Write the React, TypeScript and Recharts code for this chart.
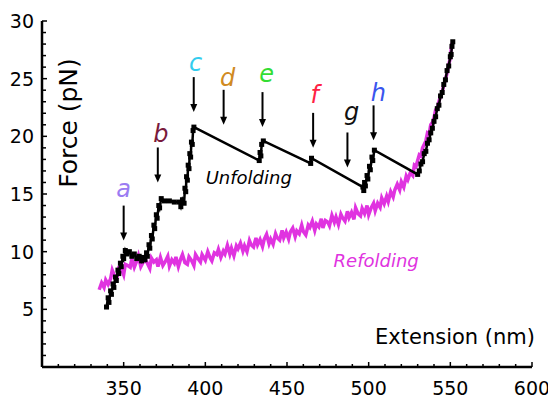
import { ComposedChart, Line, Scatter, XAxis, YAxis } from "recharts";

// force–extension traces, [extension nm, force pN]
const unfoldingTrace: [number, number][] = [
  [339.5, 5.2], [340.5, 6.0], [341, 5.6], [342, 6.6], [342.5, 6.3], [343.5, 7.2], [344, 6.9], [345, 7.8],
  [345.5, 7.5], [346.5, 8.4], [347, 8.1], [348, 9.0], [348.5, 8.7], [349.5, 9.6], [350, 9.4], [351, 10.1],
  [352, 9.8], [353.5, 10.0], [355, 9.6], [356.5, 9.8], [358, 9.4], [359.5, 9.6], [361, 9.2], [362, 9.5], [363, 9.3],
  [364, 9.9], [364.5, 9.6], [365.5, 10.6], [366, 10.3], [367, 11.4], [367.5, 11.1], [368.5, 12.3], [369, 12.0],
  [370, 13.2], [370.5, 12.9], [371.5, 14.0], [372, 13.8], [373, 14.6],
  [375, 14.4], [378, 14.4], [381, 14.3], [384, 14.3], [385, 13.9], [386, 14.5], [387, 14.2], [387.5, 15.5],
  [388, 15.2], [388.5, 16.5], [389, 16.2], [389.5, 17.5], [390, 17.2], [390.5, 18.5], [391, 18.2], [391.5, 19.5],
  [392, 19.3], [392.5, 20.5], [393, 20.8],
  [433, 17.9], [433.5, 18.6], [434, 18.3], [434.5, 19.3], [435.5, 19.6],
  [464.5, 17.65], [465, 18.1], [496.5, 15.6],
  [497, 15.3], [497.5, 16.0], [498, 15.7], [499, 16.6], [499.5, 16.3], [500.5, 17.4], [501, 17.1], [502, 18.2],
  [502.5, 17.9], [503.5, 18.8],
  [530, 16.7],
  [531, 17.0], [532, 17.6], [533, 17.8], [534, 18.5], [535, 18.7], [536, 19.4], [537, 19.7], [538, 20.3],
  [539, 20.7], [540, 21.3], [541, 21.7], [542, 22.4], [543, 22.7], [544, 23.5], [545, 23.8], [546, 24.5],
  [547, 24.9], [548, 25.7], [549, 26.1], [550, 26.9], [550.5, 27.1], [551, 27.8], [551.5, 28.2],
];

const refoldingTrace: [number, number][] = [
  [335, 6.7], [336.5, 7.3], [338, 6.9], [339, 7.55], [340.5, 7.15], [342, 7.65], [343, 8.4], [344.5, 7.85],
  [346, 7.8], [347, 8.6], [348.5, 8.55], [350, 8.0], [351, 8.9], [352.5, 8.8], [354, 8.65], [355, 9.4],
  [356.5, 8.65], [358, 9.2], [359, 9.65], [360.5, 8.7], [362, 9.1], [363, 9.4], [364.5, 9.0], [366, 8.55],
  [367, 9.45], [368.5, 9.1], [370, 9.3], [371, 8.7], [372.5, 9.5], [374, 8.8], [375.5, 9.15], [377, 9.6],
  [378, 8.75], [379.5, 9.3], [381, 9.0], [382, 9.55], [383.5, 8.7], [385, 9.4], [386, 9.75], [387.5, 9.05],
  [389, 8.9], [390, 9.55], [391.5, 9.25], [393, 8.8], [394, 9.75], [395.5, 9.4], [397, 9.1], [398, 9.75],
  [400, 9.25], [401.5, 10.0], [403, 9.45], [404, 9.2], [405.5, 9.9], [407, 9.75], [408, 10.2], [409.5, 9.5],
  [411, 10.05], [412, 9.8], [413.5, 10.55], [415, 9.8], [416, 10.3], [417.5, 9.65], [419, 10.5], [420, 10.25],
  [421.5, 10.75], [423, 10.05], [424, 10.5], [425.5, 10.0], [427, 10.95], [428, 10.6], [429.5, 10.4], [431, 11.2],
  [432, 10.6], [433.5, 11.05], [435, 10.45], [436, 11.05], [437.5, 11.5], [439, 10.7], [440, 11.1], [441.5, 10.65],
  [443, 11.55], [444, 11.2], [445.5, 11.0], [447, 11.85], [448, 11.2], [449.5, 11.7], [451, 11.1], [452, 11.7],
  [453.5, 12.05], [455, 11.3], [456, 11.8], [457.5, 11.55], [459, 12.3], [460, 11.75], [461.5, 11.45], [463, 12.3],
  [464, 12.1], [465.5, 12.65], [467, 11.85], [468, 12.4], [469.5, 12.15], [471, 12.85], [472, 12.05], [473.5, 12.7],
  [475, 12.55], [476, 12.25], [477.5, 13.15], [479, 12.55], [480, 13.0], [481.5, 12.35], [483, 13.25], [484, 12.95],
  [485.5, 12.65], [487, 13.5], [488, 12.95], [489.5, 13.4], [491, 12.8], [492, 13.8], [493.5, 13.3], [495, 13.1],
  [496, 13.75], [497.5, 13.3], [499, 14.0], [500, 13.2], [501.5, 13.8], [503, 14.2], [504, 13.55], [505.5, 14.2],
  [507, 13.85], [508, 14.65], [509.5, 14.15], [511, 14.8], [512, 14.35], [513.5, 15.2], [515, 14.75], [516, 15.35],
  [517.5, 15.85], [519, 15.35], [520, 16.05], [521.5, 15.6], [523, 16.55], [524, 16.25], [525.5, 16.85], [527, 16.6],
  [528, 17.5], [529, 17.4], [530, 17.9], [531, 18.4], [532, 18.3], [533, 19.0], [534, 19.3], [535, 19.6],
  [536, 20.3], [537, 20.2], [538, 21.0], [539, 21.2], [540, 21.6], [541, 22.3], [542, 22.4], [543, 23.0],
  [544, 23.5], [545, 23.8], [546, 24.5], [547, 24.9], [548, 25.5], [549, 26.2], [550, 26.8], [550.5, 27.5],
  [551, 28.1],
];

// unfolding events: arrow tip (x, force) and letter baseline
const eventNames = ["a", "b", "c", "d", "e", "f", "g", "h"];
const eventColors = ["#9b7cf2", "#7a1a3c", "#33ccee", "#d08a22", "#33dd33", "#ff2244", "#111111", "#3a55ee"];
const arrowTips: [number, number][] = [
  [350, 10.96], [370.9, 16.0], [392.9, 22.1], [411.2, 21.0], [435, 20.8], [466, 19.0], [487, 17.3], [503, 19.65],
];
const letterSpots: [number, number][] = [
  [350, 14.7], [372.7, 19.5], [394.1, 25.7], [413.7, 24.4], [437.5, 24.7], [466.9, 22.9], [489.5, 21.4], [506, 23.1],
];

const xLabels = [350, 400, 450, 500, 550, 600];
const yLabels = [5, 10, 15, 20, 25, 30];

const MAGENTA = "#e033e0";
const FONT = "DejaVu Sans, sans-serif";

const toPoints = (arr: [number, number][]) => arr.map(([x, y]) => ({ x, y }));

const unfolding = toPoints(unfoldingTrace);
const refolding = toPoints(refoldingTrace);
const arrows = arrowTips.map(([x, y]) => ({ x, y }));
const letters = letterSpots.map(([x, y], i) => ({ x, y, name: eventNames[i], color: eventColors[i] }));
const notes = [
  { x: 400.2, y: 15.9, text: "Unfolding", color: "#000" },
  { x: 478.5, y: 8.7, text: "Refolding", color: MAGENTA },
];

const xTicks = Array.from({ length: 31 }, (_, i) => 300 + i * 10);
const yTicks = Array.from({ length: 31 }, (_, i) => i);

const XTick = (props: any) => {
  const { x, y, payload } = props;
  const major = xLabels.includes(payload.value);
  return (
    <g>
      <line x1={x} x2={x} y1={y} y2={y - (major ? 5 : 3)} stroke="#000" strokeWidth={1.5} />
      {major && (
        <text x={x} y={y + 28} textAnchor="middle" fontSize={19} fontFamily={FONT} fill="#000">
          {payload.value}
        </text>
      )}
    </g>
  );
};

const YTick = (props: any) => {
  const { x, y, payload } = props;
  const major = yLabels.includes(payload.value);
  return (
    <g>
      <line x1={x} x2={x + (major ? 5 : 4)} y1={y} y2={y} stroke="#000" strokeWidth={1.5} />
      {major && (
        <text x={x - 8} y={y} dy="0.36em" textAnchor="end" fontSize={19} fontFamily={FONT} fill="#000">
          {payload.value}
        </text>
      )}
    </g>
  );
};

const squareDot = (props: any) => {
  const { cx, cy, index } = props;
  return <rect key={`d${index}`} x={cx - 2.5} y={cy - 2.5} width={5} height={5} fill="#000" />;
};

const renderArrow = (props: any) => {
  const { cx, cy } = props;
  return (
    <g>
      <line x1={cx} x2={cx} y1={cy - 35} y2={cy - 6} stroke="#000" strokeWidth={2} />
      <path d={`M${cx - 3.5},${cy - 8} L${cx + 3.5},${cy - 8} L${cx},${cy} Z`} fill="#000" />
    </g>
  );
};

const renderLetter = (props: any) => {
  const { cx, cy, payload } = props;
  return (
    <text x={cx} y={cy} textAnchor="middle" fontSize={24} fontStyle="italic" fontFamily={FONT} fill={payload.color}>
      {payload.name}
    </text>
  );
};

const renderNote = (props: any) => {
  const { cx, cy, payload } = props;
  return (
    <text x={cx} y={cy} fontSize={18} fontStyle="italic" fontFamily={FONT} fill={payload.color}>
      {payload.text}
    </text>
  );
};

const xTitle = (props: any) => {
  const { x, y, width } = props.viewBox;
  return (
    <text x={x + width + 3} y={y - 23} textAnchor="end" fontSize={21} fontFamily={FONT} fill="#000">
      Extension (nm)
    </text>
  );
};

const yTitle = (props: any) => {
  const { x, y, width } = props.viewBox;
  const tx = x + width + 35;
  const ty = y + 102;
  return (
    <text x={tx} y={ty} textAnchor="middle" fontSize={25} fontFamily={FONT} fill="#000" transform={`rotate(-90, ${tx}, ${ty})`}>
      Force (pN)
    </text>
  );
};

export default function App() {
  return (
    <ComposedChart width={548} height={390} margin={{ top: 13, right: 24, bottom: 0, left: 0 }}>
      <XAxis
        type="number"
        dataKey="x"
        domain={[300, 600]}
        ticks={xTicks}
        interval={0}
        allowDataOverflow
        tickSize={0}
        tickMargin={0}
        tickLine={false}
        tick={XTick}
        height={31}
        axisLine={{ stroke: "#000", strokeWidth: 2.5 }}
        label={xTitle}
      />
      <YAxis
        type="number"
        dataKey="y"
        domain={[0, 30]}
        ticks={yTicks}
        interval={0}
        allowDataOverflow
        tickSize={0}
        tickMargin={0}
        tickLine={false}
        tick={YTick}
        width={34}
        axisLine={{ stroke: "#000", strokeWidth: 2.5 }}
        label={yTitle}
      />
      <Line data={refolding} dataKey="y" type="linear" stroke={MAGENTA} strokeWidth={3.5} dot={false} isAnimationActive={false} />
      <Line data={unfolding} dataKey="y" type="linear" stroke="#000" strokeWidth={2.5} dot={squareDot} isAnimationActive={false} />
      <Scatter data={arrows} shape={renderArrow} isAnimationActive={false} />
      <Scatter data={letters} shape={renderLetter} isAnimationActive={false} />
      <Scatter data={notes} shape={renderNote} isAnimationActive={false} />
    </ComposedChart>
  );
}
